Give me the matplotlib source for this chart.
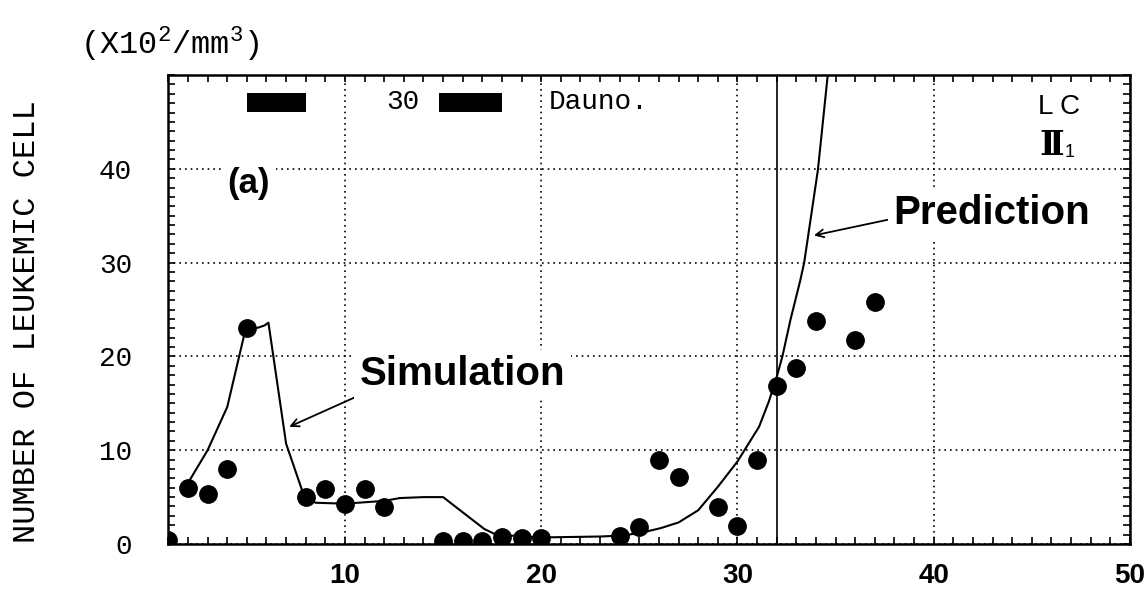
import matplotlib
matplotlib.use("Agg")
import matplotlib.pyplot as plt
from matplotlib.ticker import MultipleLocator

plt.rcParams['mathtext.fontset'] = 'custom'
plt.rcParams['mathtext.rm'] = 'Liberation Mono'

# observed leukemic cell counts (x10^2/mm^3) by day
obs_day = [1, 2, 3, 4, 5, 8, 9, 10, 11, 12, 15, 16, 17, 18, 19, 20,
           24, 25, 26, 27, 29, 30, 31, 32, 33, 34, 36, 37]
obs_val = [0.4, 6.0, 5.3, 8.0, 23.0, 5.0, 5.9, 4.3, 5.9, 3.9, 0.3, 0.3, 0.3, 0.7, 0.6, 0.6,
           0.9, 1.8, 9.0, 7.1, 3.9, 1.9, 9.0, 16.8, 18.8, 23.8, 21.8, 25.8]

# model curve fitted to the data
sim_day = [2, 3, 4, 4.9, 5.9, 6.1, 7.0, 7.9, 8.5, 10, 12, 12.8, 14, 15, 17.1, 17.7, 20, 23, 24.1]
sim_val = [6.5, 10.0, 14.6, 22.6, 23.3, 23.6, 10.7, 5.2, 4.4, 4.3, 4.6, 4.9, 5.0, 5.0, 1.6, 1.0, 0.7, 0.8, 0.9]

# continuation of the model past the last treatment
pred_day = [24.1, 25.1, 26.1, 27.0, 28.0, 29.0, 30.0, 31.1, 31.6, 32.0, 32.3, 32.7, 33.2, 33.4, 34.1, 34.6]
pred_val = [0.9, 1.2, 1.7, 2.3, 3.6, 6.1, 8.8, 12.5, 15.2, 17.8, 20.1, 23.9, 28.1, 30.0, 39.9, 50.0]

# daunorubicin courses (start day, length)
dauno_start = [5.0, 14.8]
dauno_len = [3.0, 3.2]

cutoff_day = 32

xticks = [10, 20, 30, 40, 50]
yticks = [0, 10, 20, 30, 40]

mono = 'Liberation Mono'
sans = 'Liberation Sans'

fig = plt.figure(figsize=(11.46, 6.05), dpi=100)
ax = fig.add_axes([0.1469, 0.1008, 0.8391, 0.7752])

ax.plot(sim_day, sim_val, color='black', lw=1.5, zorder=3)
ax.plot(pred_day, pred_val, color='black', lw=1.5, zorder=3)
ax.plot(obs_day, obs_val, 'o', color='black', ms=12.5, zorder=4)
ax.axvline(cutoff_day, color='black', lw=1.2, zorder=3)

ax.broken_barh(list(zip(dauno_start, dauno_len)), (46.1, 2.0), facecolors='black', zorder=3)
ax.text(13.8, 47.1, '30', family=mono, fontsize=20, ha='right', va='center')
ax.text(20.4, 47.1, 'Dauno.', family=mono, fontsize=20, ha='left', va='center')

ax.text(46.4, 46.6, 'L C', family=sans, fontsize=20, ha='center', va='center')
ax.text(46.0, 42.5, '\u2161', family='DejaVu Serif', fontweight='bold', fontsize=24,
        ha='center', va='center')
ax.text(46.95, 41.7, '1', family=sans, fontsize=13, ha='center', va='center')

white = dict(facecolor='white', edgecolor='none', pad=4)
ax.text(5.1, 38.4, '(a)', family=sans, fontweight='bold', fontsize=25,
        ha='center', va='center', bbox=white, zorder=2)

ax.annotate('Simulation', xy=(7.16, 12.5), xytext=(16.0, 18.1),
            fontsize=29, fontweight='bold', family=sans, ha='center', va='center',
            bbox=white, zorder=2,
            arrowprops=dict(arrowstyle='->', color='black', lw=1.3,
                            shrinkA=0, shrinkB=0, relpos=(0.02, 0.0),
                            mutation_scale=14))
ax.annotate('Prediction', xy=(33.9, 32.9), xytext=(42.95, 35.3),
            fontsize=29, fontweight='bold', family=sans, ha='center', va='center',
            bbox=white, zorder=2,
            arrowprops=dict(arrowstyle='->', color='black', lw=1.3,
                            shrinkA=0, shrinkB=0, relpos=(0.0, 0.35),
                            mutation_scale=14))

ax.set_xlim(1, 50)
ax.set_ylim(0, 50)
ax.set_xticks(xticks)
ax.set_yticks(yticks)
ax.xaxis.set_minor_locator(MultipleLocator(1))
ax.yaxis.set_minor_locator(MultipleLocator(1))
ax.tick_params(which='both', direction='in', top=True, right=True,
               length=5, width=1.2)
ax.tick_params(axis='x', pad=14)
ax.tick_params(axis='y', pad=26)
for lab in ax.get_xticklabels():
    lab.set_family(sans)
    lab.set_fontweight('bold')
    lab.set_fontsize(20)
for lab in ax.get_yticklabels():
    lab.set_family(mono)
    lab.set_fontsize(20)

ax.grid(True, which='major', color='black', lw=1.2, linestyle=(0, (1, 2.4)))
ax.set_axisbelow(True)
for sp in ax.spines.values():
    sp.set_linewidth(1.8)

fig.text(27 / 1146, 1 - 322 / 605, 'NUMBER OF LEUKEMIC CELL', family=mono,
         fontsize=23, rotation=90, ha='center', va='center')
fig.text(80 / 1146, 1 - 44 / 605, '(X10$^{2}$/mm$^{3}$)', family=mono,
         fontsize=23, ha='left', va='center')

fig.savefig('out.png', dpi=100, facecolor='white')
